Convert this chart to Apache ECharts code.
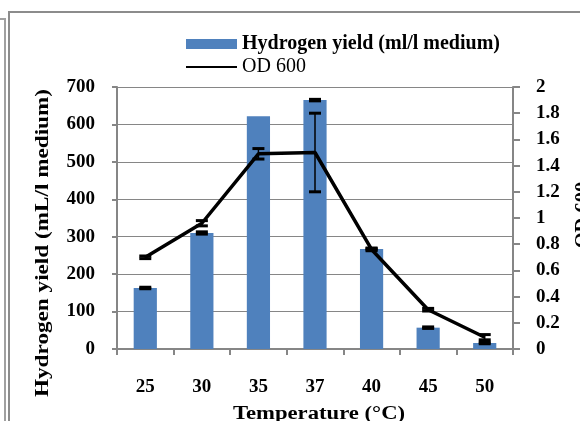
<!DOCTYPE html>
<html><head><meta charset="utf-8">
<script src="https://cdn.jsdelivr.net/npm/echarts@6/dist/echarts.min.js"></script>
<style>html,body{margin:0;padding:0;background:#fff}#c{width:580px;height:421px}</style>
</head><body><div id="c"></div>
<script>
const categories = ['25','30','35','37','40','45','50'];
const yieldValues = [163, 310, 622, 665, 267, 57, 16];
const yieldErr = [2, 3, 0, 2, 2, 2, 2];
const odValues = [0.70, 0.96, 1.49, 1.50, 0.76, 0.30, 0.09];
const odErr = [0.01, 0.02, 0.04, 0.30, 0.01, 0.01, 0.02];
const leftTicks = [0, 700, 100];
const rightTicks = [0, 2, 0.2];

const FONT = 'Liberation Serif';
const chart = echarts.init(document.getElementById('c'));

function errRender(params, api) {
  const i = api.value(0);
  if (api.value(3) === 0) return null;
  const lo = api.coord([i, api.value(1)]);
  const hi = api.coord([i, api.value(2)]);
  const w = 6;
  const st = {stroke: '#000', lineWidth: 3};
  return {type: 'group', children: [
    {type: 'line', shape: {x1: lo[0], y1: lo[1], x2: hi[0], y2: hi[1]}, style: {stroke: '#000', lineWidth: 1.5}},
    {type: 'line', shape: {x1: lo[0]-w, y1: lo[1], x2: lo[0]+w, y2: lo[1]}, style: st},
    {type: 'line', shape: {x1: hi[0]-w, y1: hi[1], x2: hi[0]+w, y2: hi[1]}, style: st}
  ]};
}

const axisLineStyle = {color: '#868686', width: 2};
const labelStyle = {fontFamily: FONT, fontSize: 19, fontWeight: 'bold', color: '#000'};
const titleFont = 'bold 19px "Liberation Serif"';

chart.setOption({
  animation: false,
  grid: {left: 117, right: 67, top: 87, bottom: 72},
  legend: {
    orient: 'vertical', left: 181, top: 29, itemWidth: 51, itemHeight: 10, itemGap: 3,
    textStyle: {fontFamily: FONT, fontSize: 20, fontWeight: 'bold', color: '#000'},
    data: [
      {name: 'Hydrogen yield (ml/l medium)', icon: 'rect'},
      {name: 'OD 600', icon: 'path://M0,0h51v2.2h-51z', itemStyle: {color: '#000'},
       textStyle: {fontFamily: FONT, fontSize: 20, fontWeight: 'normal', color: '#000'}}
    ]
  },
  xAxis: {
    type: 'category', data: categories,
    axisLine: {lineStyle: axisLineStyle},
    axisTick: {show: true, length: 6, lineStyle: {color: '#868686', width: 2}},
    axisLabel: Object.assign({margin: 29}, labelStyle)
  },
  yAxis: [{
    type: 'value', min: leftTicks[0], max: leftTicks[1], interval: leftTicks[2],
    axisLine: {show: true, lineStyle: axisLineStyle},
    axisTick: {show: true, length: 5, lineStyle: {color: '#868686', width: 2}},
    axisLabel: Object.assign({margin: 22}, labelStyle),
    splitLine: {lineStyle: {color: '#868686', width: 1}}
  }, {
    type: 'value', position: 'right', min: rightTicks[0], max: rightTicks[1], interval: rightTicks[2],
    axisLine: {show: true, lineStyle: axisLineStyle},
    axisTick: {show: true, length: 7, lineStyle: {color: '#868686', width: 2}},
    axisLabel: Object.assign({margin: 23, formatter: v => String(+v.toFixed(1))}, labelStyle),
    splitLine: {show: false}
  }],
  series: [{
    name: 'Hydrogen yield (ml/l medium)', type: 'bar', data: yieldValues, barWidth: '41%',
    itemStyle: {color: '#4f81bd'}, yAxisIndex: 0
  }, {
    type: 'custom', yAxisIndex: 0, z: 5,
    data: yieldValues.map((v, i) => [i, v - yieldErr[i], v + yieldErr[i], yieldErr[i]]),
    renderItem: errRender
  }, {
    name: 'OD 600', type: 'line', data: odValues, yAxisIndex: 1, symbol: 'none',
    lineStyle: {color: '#000', width: 3.5}, itemStyle: {color: '#000'}, z: 6
  }, {
    type: 'custom', yAxisIndex: 1, z: 7,
    data: odValues.map((v, i) => [i, v - odErr[i], v + odErr[i], odErr[i]]),
    renderItem: errRender
  }],
  graphic: [
    {type: 'text', x: 319, y: 414, scaleX: 1.26, style: {text: 'Temperature (\u00b0C)', font: 'bold 18px "Liberation Serif"', fill: '#000', align: 'center', verticalAlign: 'middle'}},
    {type: 'text', rotation: Math.PI / 2, x: 43, y: 243, scaleX: 1.22, style: {text: 'Hydrogen yield (mL/l medium)', font: titleFont, fill: '#000', align: 'center', verticalAlign: 'middle'}},
    {type: 'text', rotation: Math.PI / 2, x: 583, y: 215, scaleX: 1.08, style: {text: 'OD 600', font: titleFont, fill: '#000', align: 'center', verticalAlign: 'middle'}},
    {type: 'polyline', shape: {points: [[9, 421], [9, 12], [580, 12]]}, style: {stroke: '#8c8c8c', lineWidth: 2, fill: null}},
    {type: 'polyline', shape: {points: [[0, 19], [5, 19], [5, 421]]}, style: {stroke: '#a0a0a0', lineWidth: 2, fill: null}}
  ]
});
</script></body></html>
